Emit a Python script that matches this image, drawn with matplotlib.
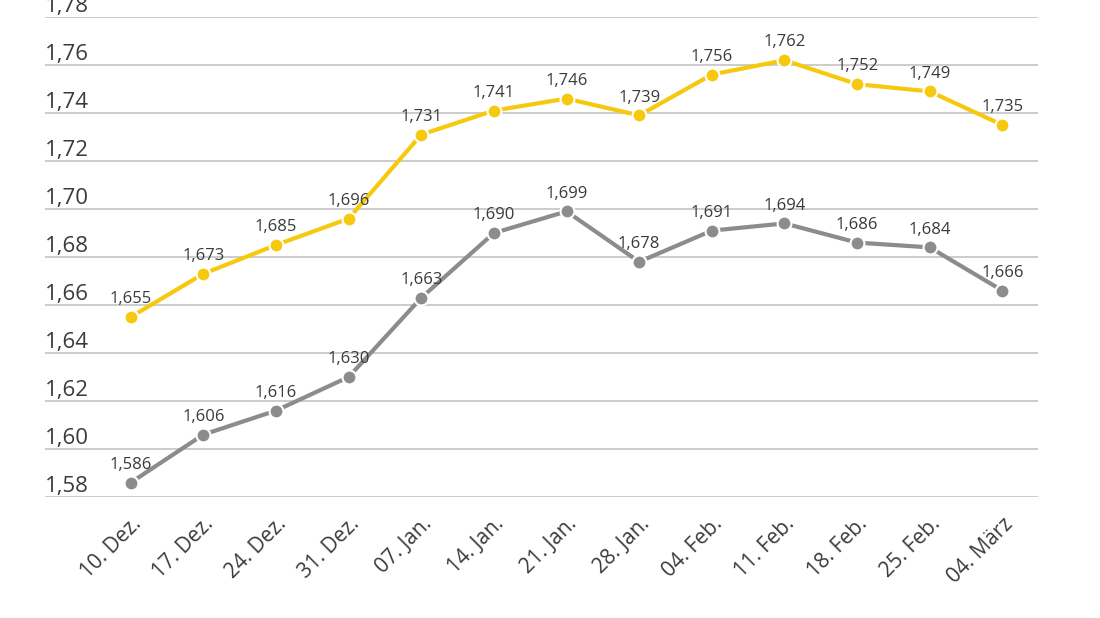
import matplotlib
matplotlib.use('Agg')
import matplotlib.pyplot as plt
import matplotlib.transforms as mtransforms

plt.rcParams['font.family'] = ['Open Sans', 'DejaVu Sans']

DATES = ['10. Dez.', '17. Dez.', '24. Dez.', '31. Dez.', '07. Jan.',
         '14. Jan.', '21. Jan.', '28. Jan.', '04. Feb.', '11. Feb.',
         '18. Feb.', '25. Feb.', '04. März']
YELLOW_VALUES = [1.655, 1.673, 1.685, 1.696, 1.731, 1.741, 1.746, 1.739,
                 1.756, 1.762, 1.752, 1.749, 1.735]
GREY_VALUES = [1.586, 1.606, 1.616, 1.630, 1.663, 1.690, 1.699, 1.678,
               1.691, 1.694, 1.686, 1.684, 1.666]
Y_TICKS = [1.58, 1.60, 1.62, 1.64, 1.66, 1.68, 1.70, 1.72, 1.74, 1.76, 1.78]

YELLOW = '#f6c90e'
GREY = '#8d8b8c'
TEXT = '#3a3a3a'
GRID = '#c8c8c8'


def comma(value, digits):
    """Format a number with a German decimal comma."""
    return f'{value:.{digits}f}'.replace('.', ',')


fig = plt.figure(figsize=(11, 6.18), dpi=100)
ax = fig.add_axes([45 / 1100, 121 / 618, 993 / 1100, 480 / 618])

x = list(range(len(DATES)))
for values, colour in ((YELLOW_VALUES, YELLOW), (GREY_VALUES, GREY)):
    ax.plot(x, values, color=colour, lw=3, marker='o', ms=10,
            mec='white', mew=1.5, zorder=3)
    for xi, v in zip(x, values):
        ax.annotate(comma(v, 3), (xi, v), xytext=(0, 7),
                    textcoords='offset points', ha='center', va='bottom',
                    fontsize=12, color=TEXT, zorder=4)

ax.set_xlim(-1.18, 12.49)
ax.set_ylim(1.58, 1.78)
label_tf = mtransforms.blended_transform_factory(ax.transAxes, ax.transData)
for t in Y_TICKS:
    ax.axhline(t, color=GRID, lw=1.3, zorder=1)
    ax.text(0, t, comma(t, 2), transform=label_tf, ha='left', va='bottom',
            fontsize=16, color=TEXT, clip_on=False)

ax.set_yticks([])
ax.set_xticks(x)
ax.set_xticklabels(DATES, rotation=45, ha='right', va='top',
                   rotation_mode='anchor', fontsize=15, color=TEXT)
ax.tick_params(axis='x', length=0, pad=12)
for spine in ax.spines.values():
    spine.set_visible(False)

fig.savefig('out.png', dpi=100)
